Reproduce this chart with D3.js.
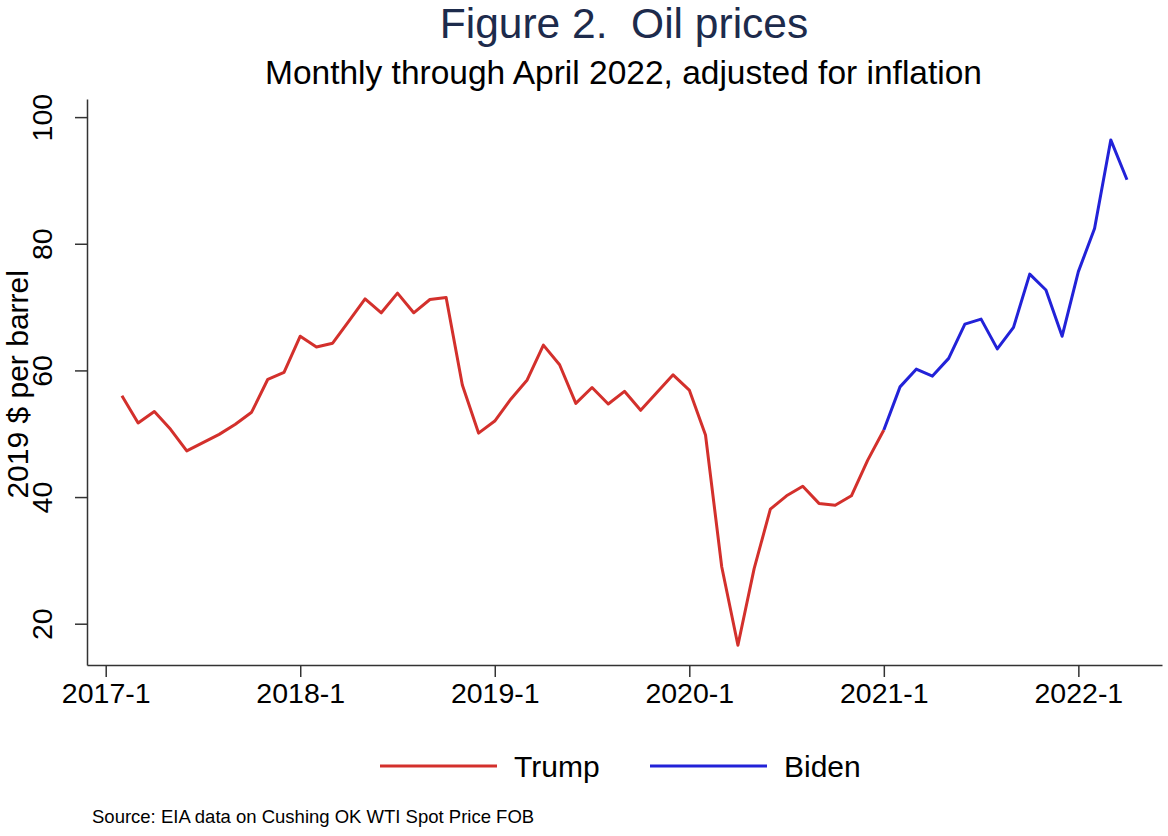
<!DOCTYPE html>
<html>
<head>
<meta charset="utf-8">
<script src="https://cdn.jsdelivr.net/npm/d3@7"></script>
<style>
  html, body { margin: 0; padding: 0; background: #fff; }
  svg { display: block; font-family: "Liberation Sans", Arial, Helvetica, sans-serif; }
</style>
</head>
<body>
<svg id="chart" width="1168" height="836"></svg>
<script>
// ---- data (monthly, 2019 $ per barrel) ----
const trumpStart = "2017-2";
const trumpValues = [56.0, 51.7, 53.5, 50.7, 47.3, 48.6, 49.9, 51.5, 53.4, 58.6, 59.7,
  65.4, 63.7, 64.3, 67.8, 71.3, 69.1, 72.2, 69.1, 71.2, 71.5, 57.7, 50.1,
  52.0, 55.5, 58.5, 64.0, 60.9, 54.8, 57.3, 54.7, 56.7, 53.7, 56.5, 59.3,
  56.9, 49.8, 29.0, 16.6, 28.7, 38.1, 40.2, 41.7, 39.0, 38.7, 40.2, 45.8,
  50.6];
const bidenStart = "2021-1";
const bidenValues = [50.6, 57.4, 60.2, 59.1, 61.9, 67.3, 68.1, 63.4, 66.8, 75.2, 72.7, 65.4,
  75.6, 82.4, 96.4, 90.1];
const xTickLabels = ["2017-1", "2018-1", "2019-1", "2020-1", "2021-1", "2022-1"];
const yTickValues = [20, 40, 60, 80, 100];
const seriesNames = ["Trump", "Biden"];
const seriesColors = ["#d3302c", "#2222d8"];

// ---- helpers ----
const monthIndex = s => { const [y, m] = s.split("-").map(Number); return y * 12 + (m - 1); };
const seriesFrom = (start, vals) => vals.map((v, i) => ({ t: monthIndex(start) + i, v }));
const trump = seriesFrom(trumpStart, trumpValues);
const biden = seriesFrom(bidenStart, bidenValues);

const svg = d3.select("#chart");
const base = monthIndex("2017-1");
const x = d3.scaleLinear()
  .domain([base - 1.154, base + 65.16])
  .range([87, 1162]);
const y = d3.scaleLinear()
  .domain([13.48, 102.86])
  .range([665, 99]);

// title
svg.append("text")
  .attr("x", 624).attr("y", 38)
  .attr("text-anchor", "middle")
  .attr("font-size", 42.5)
  .attr("fill", "#1d2b4c")
  .style("white-space", "pre")
  .text("Figure 2.  Oil prices");
svg.append("text")
  .attr("x", 623.5).attr("y", 84)
  .attr("text-anchor", "middle")
  .attr("font-size", 33.5)
  .attr("fill", "#000")
  .text("Monthly through April 2022, adjusted for inflation");

// axes
const xAxis = d3.axisBottom(x)
  .tickValues(xTickLabels.map(monthIndex))
  .tickFormat((d, i) => xTickLabels[i])
  .tickSize(12).tickSizeOuter(0).tickPadding(6);
const gx = svg.append("g").attr("transform", "translate(0,665)").call(xAxis);
gx.select(".domain").attr("stroke", "#333").attr("stroke-width", 1.5);
gx.selectAll(".tick line").attr("stroke", "#333").attr("stroke-width", 1.5);
gx.selectAll(".tick text").attr("font-size", 28.5).attr("fill", "#000")
  .attr("font-family", "Liberation Sans, Arial, sans-serif");

const yAxis = d3.axisLeft(y)
  .tickValues(yTickValues)
  .tickSize(12).tickSizeOuter(0).tickPadding(10);
const gy = svg.append("g").attr("transform", "translate(87,0)").call(yAxis);
gy.select(".domain").attr("stroke", "#333").attr("stroke-width", 1.5);
gy.selectAll(".tick line").attr("stroke", "#333").attr("stroke-width", 1.5);
gy.selectAll(".tick text")
  .attr("font-size", 28.5).attr("fill", "#000")
  .attr("font-family", "Liberation Sans, Arial, sans-serif")
  .attr("x", null).attr("dy", null)
  .attr("text-anchor", "middle")
  .attr("transform", "translate(-35,0) rotate(-90)")
  .attr("y", 0);

// y axis title
svg.append("text")
  .attr("transform", `translate(28,${y(57.8)}) rotate(-90)`)
  .attr("text-anchor", "middle")
  .attr("font-size", 30)
  .attr("fill", "#000")
  .text("2019 $ per barrel");

// lines
const line = d3.line().x(d => x(d.t)).y(d => y(d.v));
[trump, biden].forEach((s, i) => {
  svg.append("path")
    .datum(s)
    .attr("fill", "none")
    .attr("stroke", seriesColors[i])
    .attr("stroke-width", 3)
    .attr("stroke-linejoin", "round")
    .attr("d", line);
});

// legend
const legendX = [380, 650];
seriesNames.forEach((name, i) => {
  svg.append("line")
    .attr("x1", legendX[i]).attr("x2", legendX[i] + 117)
    .attr("y1", 766).attr("y2", 766)
    .attr("stroke", seriesColors[i]).attr("stroke-width", 3);
  svg.append("text")
    .attr("x", legendX[i] + 134).attr("y", 777)
    .attr("font-size", 30).attr("fill", "#000")
    .text(name);
});

// source note
svg.append("text")
  .attr("x", 92).attr("y", 823)
  .attr("font-size", 18.5).attr("fill", "#000")
  .text("Source: EIA data on Cushing OK WTI Spot Price FOB");
</script>
</body>
</html>
